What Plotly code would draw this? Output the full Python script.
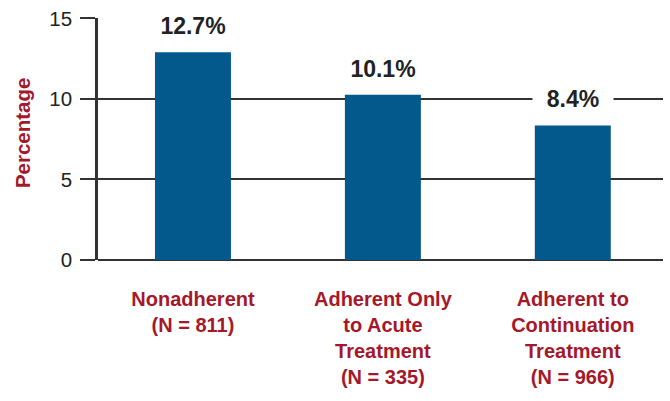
import plotly.graph_objects as go

categories = ["Nonadherent<br>(N = 811)",
              "Adherent Only<br>to Acute<br>Treatment<br>(N = 335)",
              "Adherent to<br>Continuation<br>Treatment<br>(N = 966)"]
bar_values = [12.9, 10.25, 8.35]
value_labels = ["12.7%", "10.1%", "8.4%"]
y_ticks = [0, 5, 10, 15]

BLUE = "#03588c"
RED = "#a5182a"
DARK = "#333333"
FONT = "Liberation Sans, Arial, sans-serif"

fig = go.Figure()
fig.add_trace(go.Bar(
    x=list(range(len(categories))), y=bar_values,
    marker=dict(color=BLUE, line=dict(width=0)),
    width=0.4, hoverinfo="skip",
))

for i, (v, lab) in enumerate(zip(bar_values, value_labels)):
    fig.add_annotation(
        x=i, y=v, yshift=26, yanchor="middle", xanchor="center",
        text="<b>%s</b>" % lab, showarrow=False,
        bgcolor="white", width=78, height=30,
        font=dict(family=FONT, size=23, color="#222222"),
    )

# y-axis title placed as rotated annotation
fig.add_annotation(
    xref="paper", yref="paper",
    x=(22 - 98) / 565, y=(260 - 131) / 246,
    xanchor="center", yanchor="middle", textangle=-90,
    text="<b>Percentage</b>", showarrow=False,
    font=dict(family=FONT, size=20.5, color=RED),
)

fig.update_layout(
    width=670, height=401,
    margin=dict(l=98, r=7, t=14, b=141),
    paper_bgcolor="white", plot_bgcolor="white",
    showlegend=False,
    font=dict(family=FONT),
    bargap=0.6,
)
fig.update_xaxes(
    range=[-0.5, 2.475],
    tickmode="array",
    tickvals=list(range(len(categories))),
    ticktext=["<b>%s</b>" % c for c in categories],
    tickfont=dict(family=FONT, size=20, color=RED),
    showgrid=False, zeroline=False, showline=False,
    ticks="", ticklabelstandoff=25,
)
fig.update_yaxes(
    range=[0, 15.02],
    tickmode="array", tickvals=y_ticks,
    tickfont=dict(family=FONT, size=20.5, color="#222222"),
    showgrid=True, gridcolor=DARK, gridwidth=1.5,
    zeroline=True, zerolinecolor=DARK, zerolinewidth=1.5,
    showline=True, linecolor=DARK, linewidth=2.5,
    ticks="outside", ticklen=15, tickwidth=1.5, tickcolor=DARK,
    ticklabelstandoff=4,
)

fig.write_html("out.html")
